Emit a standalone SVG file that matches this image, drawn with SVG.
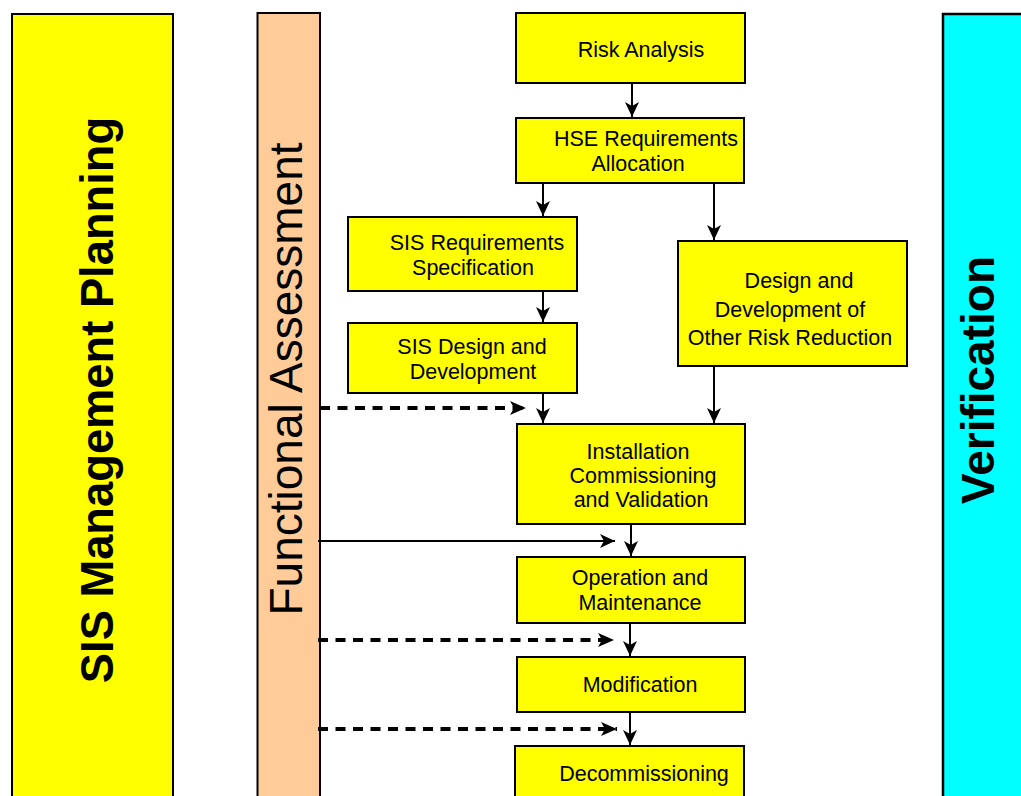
<svg xmlns="http://www.w3.org/2000/svg" width="1021" height="796" viewBox="0 0 1021 796">
  <style>
    .box { fill: #ffff00; stroke: #000; stroke-width: 2; }
    .lbl { font-family: "Liberation Sans", Arial, sans-serif; font-size: 21.5px; fill: #000; text-anchor: middle; }
    .band { font-family: "Liberation Sans", Arial, sans-serif; font-size: 46px; fill: #000; text-anchor: middle; }
    .flow { stroke: #000; stroke-width: 2; fill: none; marker-end: url(#ah); }
    .dash { stroke: #000; stroke-width: 4; fill: none; stroke-dasharray: 10 7.5; marker-end: url(#ahd); }
  </style>
  <defs>
    <marker id="ah" viewBox="0 0 15 14" refX="15" refY="7" markerWidth="15" markerHeight="14" markerUnits="userSpaceOnUse" orient="auto">
      <path d="M0,0 L15,7 L0,14 L4,7 z" fill="#000"/>
    </marker>
    <marker id="ahd" viewBox="0 0 16 14" refX="16" refY="7" markerWidth="16" markerHeight="14" markerUnits="userSpaceOnUse" orient="auto">
      <path d="M0,0 L16,7 L0,14 L4,7 z" fill="#000"/>
    </marker>
  </defs>
  <rect width="1021" height="796" fill="#fff"/>

  <!-- side bands -->
  <g id="band-planning">
    <rect x="12" y="14" width="161" height="800" class="box"/>
    <text class="band" style="font-size:45.3px" font-weight="bold" transform="translate(113,400) rotate(-90)">SIS Management Planning</text>
  </g>
  <g id="band-assessment">
    <rect x="257.5" y="13" width="62.5" height="800" fill="#ffcc99" stroke="#000" stroke-width="2"/>
    <text class="band" transform="translate(302,379) rotate(-90)">Functional Assessment</text>
  </g>
  <g id="band-verification">
    <rect x="943" y="14" width="90" height="800" fill="#00ffff" stroke="#000" stroke-width="2.5"/>
    <text class="band" font-weight="bold" transform="translate(994,380) rotate(-90)">Verification</text>
  </g>

  <!-- lifecycle steps -->
  <g id="risk-analysis">
    <rect x="516" y="13" width="229" height="70" class="box"/>
    <text class="lbl" x="641" y="57">Risk Analysis</text>
  </g>
  <g id="hse-allocation">
    <rect x="516" y="118" width="228" height="65" class="box"/>
    <text class="lbl" x="646" y="146">HSE Requirements</text>
    <text class="lbl" x="638" y="171">Allocation</text>
  </g>
  <g id="sis-requirements">
    <rect x="348" y="217" width="229" height="74" class="box"/>
    <text class="lbl" x="477" y="250">SIS Requirements</text>
    <text class="lbl" x="473" y="275">Specification</text>
  </g>
  <g id="sis-design">
    <rect x="348" y="323" width="229" height="70" class="box"/>
    <text class="lbl" x="472" y="354">SIS Design and</text>
    <text class="lbl" x="473" y="379">Development</text>
  </g>
  <g id="other-risk-reduction">
    <rect x="678" y="241" width="229" height="125" class="box"/>
    <text class="lbl" x="799" y="288">Design and</text>
    <text class="lbl" x="790" y="317">Development of</text>
    <text class="lbl" x="790" y="345">Other Risk Reduction</text>
  </g>
  <g id="installation">
    <rect x="517" y="424" width="228" height="100" class="box"/>
    <text class="lbl" x="638" y="459">Installation</text>
    <text class="lbl" x="643" y="483">Commissioning</text>
    <text class="lbl" x="641" y="507">and Validation</text>
  </g>
  <g id="operation">
    <rect x="517" y="557" width="228" height="66" class="box"/>
    <text class="lbl" x="640" y="585">Operation and</text>
    <text class="lbl" x="640" y="610">Maintenance</text>
  </g>
  <g id="modification">
    <rect x="517" y="657" width="228" height="55" class="box"/>
    <text class="lbl" x="640" y="692">Modification</text>
  </g>
  <g id="decommissioning">
    <rect x="515" y="746" width="229" height="70" class="box"/>
    <text class="lbl" x="644" y="781">Decommissioning</text>
  </g>

  <!-- connectors -->
  <g id="connectors">
    <line x1="632" y1="84" x2="632" y2="117" class="flow"/>
    <line x1="543" y1="184" x2="543" y2="216" class="flow"/>
    <line x1="714" y1="184" x2="714" y2="240" class="flow"/>
    <line x1="543" y1="292" x2="543" y2="322" class="flow"/>
    <line x1="543" y1="394" x2="543" y2="423" class="flow"/>
    <line x1="714" y1="367" x2="714" y2="423" class="flow"/>
    <line x1="631" y1="525" x2="631" y2="556" class="flow"/>
    <line x1="630" y1="624" x2="630" y2="656" class="flow"/>
    <line x1="630" y1="713" x2="630" y2="745" class="flow"/>
    <line x1="318" y1="541" x2="615" y2="541" class="flow"/>
    <line x1="320" y1="408" x2="526" y2="408" class="dash"/>
    <line x1="318" y1="640" x2="614" y2="640" class="dash"/>
    <line x1="318" y1="729" x2="617" y2="729" class="dash"/>
  </g>
</svg>
